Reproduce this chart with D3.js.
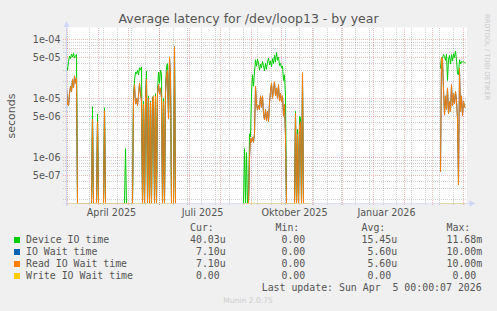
<!DOCTYPE html>
<html>
<head>
<meta charset="utf-8">
<script src="https://cdn.jsdelivr.net/npm/d3@7/dist/d3.min.js"></script>
<style>
body { margin: 0; background: #f0f0f0; }
svg { display: block; }
text { font-family: "DejaVu Sans", sans-serif; fill: #555; }
.mono { font-family: "DejaVu Sans Mono", monospace; white-space: pre; }
</style>
</head>
<body>
<script>
// Average latency for /dev/loop13 - by year (munin)

var startDate = "2025-03-01";
var endDate = "2026-04-05";

// each segment is one run of known data, one value per day
var segmentStarts = ["2025-03-01", "2025-08-25", "2026-03-10"];

var deviceIO = [
	[3.3e-5, 3.0e-5, 4.2e-5, 5.2e-5, 4.7e-5, 5.6e-5, 5.0e-5, 5.8e-5, 4.8e-5, 5.3e-5, 5.5e-5,
	 0, 0, 0, 0, 0, 0, 0, 0, 0, 0, 0, 0, 0, 0, 0,
	 7.2e-6, 0, 0, 0, 0, 5.4e-6, 0, 0, 0, 0, 0, 0, 6.9e-6,
	 0, 0, 0, 0, 0, 0, 0, 0, 0, 0, 0, 0, 0, 0, 0, 0, 0, 0, 0, 0,
	 1.4e-6, 0, 0, 0, 0, 0, 0, 0,
	 1.1e-5, 2.0e-5, 2.8e-5, 2.6e-5, 3.0e-5, 2.5e-5, 3.3e-5, 3.0e-5, 3.4e-5, 0,
	 9e-6, 0, 1.0e-5, 2.9e-5, 0, 1.1e-5, 0, 9e-6, 0, 1.0e-5, 1.1e-5, 0, 1.2e-5, 0,
	 1.3e-5, 2.8e-5, 1.8e-5, 3.0e-5, 2.6e-5, 0, 1.0e-5, 0,
	 1.5e-5, 3.5e-5, 3.9e-5, 5.2e-6, 3.6e-5, 2.0e-5, 0, 0, 0, 6.0e-5, 0],
	[0, 1.4e-6, 0, 1.2e-6, 0, 0, 2.5e-6, 2.2e-6, 1.2e-5, 2.5e-5, 1.6e-5, 2.8e-5,
	 4.5e-5, 3.5e-5, 4.6e-5, 4.0e-5, 3.0e-5, 3.8e-5, 3.3e-5, 4.2e-5, 3.6e-5, 2.9e-5,
	 3.9e-5, 3.1e-5, 4.2e-5, 4.8e-5, 3.7e-5, 4.3e-5, 3.4e-5, 4.7e-5, 3.9e-5, 5.4e-5,
	 4.1e-5, 6.0e-5, 4.4e-5, 5.0e-5, 3.6e-5, 3.9e-5, 3.3e-5, 3.5e-5, 2.0e-5, 2.5e-5,
	 1.1e-5, 0, 0, 0, 0, 0, 0, 0, 0, 0,
	 6e-6, 0, 3e-6, 0, 5.0e-6, 4.6e-6, 0, 2.0e-5, 0, 0, 0, 0, 0, 0, 0],
	[3.2e-5, 5.0e-5, 4.8e-5, 5.5e-5, 5.1e-5, 4.4e-5, 5.6e-5, 2.0e-5, 4.6e-5, 5.3e-5,
	 3.8e-5, 5.5e-5, 4.3e-5, 5.7e-5, 4.9e-5, 6.3e-5, 4.5e-5, 2.6e-5, 2.5e-5, 4.5e-5,
	 3.8e-5, 4.2e-5, 4.1e-5, 4.2e-5, 4.0e-5, 4.0e-5]
];

var readIO = [
	[1.5e-5, 8.0e-6, 7.5e-6, 1.2e-5, 1.6e-5, 1.3e-5, 2.1e-5, 1.5e-5, 2.4e-5, 1.8e-5, 2.2e-5,
	 0, 0, 0, 0, 0, 0, 0, 0, 0, 0, 0, 0, 0, 0, 0,
	 4.4e-6, 0, 0, 0, 0, 4.0e-6, 0, 0, 0, 0, 0, 0, 6.1e-6,
	 0, 0, 0, 0, 0, 0, 0, 0, 0, 0, 0, 0, 0, 0, 0, 0, 0, 0, 0, 0,
	 0, 0, 0, 0, 0, 0, 0, 0,
	 1.0e-5, 1.7e-5, 8e-6, 1.0e-5, 7.5e-6, 1.1e-5, 1.8e-5, 1.2e-5, 9e-6, 0,
	 8e-6, 0, 9e-6, 2.1e-5, 0, 1.0e-5, 0, 8.5e-6, 0, 9e-6, 1.1e-5, 0, 1.1e-5, 0,
	 1.2e-5, 1.7e-5, 1.2e-5, 1.5e-5, 1.0e-5, 0, 9e-6, 0,
	 1.2e-5, 2.5e-5, 3.0e-5, 4.5e-6, 5.0e-5, 2.5e-5, 0, 0, 0, 7.5e-5, 0],
	[0, 0, 0, 0, 0, 0, 1.0e-6, 2.1e-6, 1.8e-6, 2.2e-6, 1.8e-6, 2.5e-6,
	 1.6e-5, 8e-6, 6.3e-6, 7.7e-6, 6.5e-6, 1.1e-5, 7e-6, 1.1e-5, 5.5e-6, 4.3e-6,
	 6.5e-6, 4.2e-6, 6.0e-6, 4.0e-6, 8.2e-6, 1.3e-5, 1.8e-5, 1.0e-5, 1.4e-5, 1.9e-5,
	 1.1e-5, 1.5e-5, 1.0e-5, 1.7e-5, 9e-6, 1.2e-5, 8.8e-6, 1.1e-5, 5.0e-6, 8e-6,
	 2.2e-6, 0, 0, 0, 0, 0, 0, 0, 0, 0,
	 5.6e-6, 0, 2.5e-6, 0, 3.5e-6, 4.0e-6, 0, 2.7e-5, 0, 0, 0, 0, 0, 0, 0],
	[5.7e-7, 5.0e-5, 4.5e-5, 1.4e-5, 5.2e-6, 1.1e-5, 6.5e-6, 1.5e-5, 5.5e-6, 9e-6,
	 6.0e-6, 1.7e-5, 7.5e-6, 1.2e-5, 8e-6, 1.3e-5, 9e-6, 4.5e-6, 3.4e-7, 3.2e-5,
	 6.0e-6, 1.1e-5, 5.0e-6, 9e-6, 7.1e-6, 7.1e-6]
];

// IO wait = read + write; write is zero throughout, so it equals the read values
var ioWait = readIO;

var writeIO = [
	[0, 0, 0, 0, 0, 0, 0, 0, 0, 0, 0, 0, 0, 0, 0, 0, 0, 0, 0, 0, 0, 0, 0, 0, 0, 0, 0, 0,
	 0, 0, 0, 0, 0, 0, 0, 0, 0, 0, 0, 0, 0, 0, 0, 0, 0, 0, 0, 0, 0, 0, 0, 0, 0, 0, 0, 0,
	 0, 0, 0, 0, 0, 0, 0, 0, 0, 0, 0, 0, 0, 0, 0, 0, 0, 0, 0, 0, 0, 0, 0, 0, 0, 0, 0, 0,
	 0, 0, 0, 0, 0, 0, 0, 0, 0, 0, 0, 0, 0, 0, 0, 0, 0, 0, 0, 0, 0, 0, 0, 0, 0, 0, 0],
	[0, 0, 0, 0, 0, 0, 0, 0, 0, 0, 0, 0, 0, 0, 0, 0, 0, 0, 0, 0, 0, 0, 0, 0, 0, 0, 0, 0,
	 0, 0, 0, 0, 0, 0, 0, 0, 0, 0, 0, 0, 0, 0, 0, 0, 0, 0, 0, 0, 0, 0, 0, 0, 0, 0, 0, 0,
	 0, 0, 0, 0, 0, 0, 0, 0, 0, 0, 0],
	[0, 0, 0, 0, 0, 0, 0, 0, 0, 0, 0, 0, 0, 0, 0, 0, 0, 0, 0, 0, 0, 0, 0, 0, 0, 0]
];

var yTicks = [1e-4, 5e-5, 1e-5, 5e-6, 1e-6, 5e-7];
var yTickLabels = ["1e-04", "5e-05", "1e-05", "5e-06", "1e-06", "5e-07"];

var xLabels = ["April 2025", "Juli 2025", "Oktober 2025", "Januar 2026"];
var xLabelDates = ["2025-04-15", "2025-07-15", "2025-10-15", "2026-01-15"];

var legendNames = ["Device IO time", "IO Wait time", "Read IO Wait time", "Write IO Wait time"];
var curValues = ["40.03u", " 7.10u", " 7.10u", " 0.00 "];
var minValues = [" 0.00 ", " 0.00 ", " 0.00 ", " 0.00 "];
var avgValues = ["15.45u", " 5.60u", " 5.60u", " 0.00 "];
var maxValues = ["11.68m", "10.00m", "10.00m", " 0.00 "];
var lastUpdate = "Last update: Sun Apr  5 00:00:07 2026";

var colors = ["#00cc00", "#0066b3", "#ff8000", "#ffcc00"];

var W = 497, H = 311;
var X0 = 66.5, X1 = 466.5, YT = 28, YB = 203.5;

var parse = d3.utcParse("%Y-%m-%d");

var svg = d3.select(document.body).append("svg")
	.attr("width", W)
	.attr("height", H);

var x = d3.scaleUtc()
	.domain([parse(startDate), parse(endDate)])
	.range([X0, X1]);

var y = d3.scaleLog()
	.domain([1e-6, 1e-4])
	.range([157.3, 39.3]);

var yMin = y.invert(YB);
var yMax = y.invert(YT);

function yPos(v) {
	if (v <= yMin) { return YB; }
	return y(v);
}

// plot area
svg.append("rect")
	.attr("x", 67).attr("y", YT - 0.5)
	.attr("width", X1 - 67 + 0.5).attr("height", YB - YT)
	.attr("fill", "#fff");

svg.append("clipPath").attr("id", "plot")
	.append("rect")
	.attr("x", X0).attr("y", YT - 1)
	.attr("width", X1 - X0 + 1).attr("height", YB - YT + 1.5);

var grid = svg.append("g");
var minorColor = "rgba(143,143,143,0.4)";
var majorColor = "rgba(222,79,79,0.38)";

// horizontal grid
var hMinor = [], hMajor = [];
for (var d = -7; d <= -4; d++) {
	for (var m = 1; m <= 9; m++) {
		var v = m * Math.pow(10, d);
		if (v < yMin || v > yMax) { continue; }
		if (m == 1 || m == 5) { hMajor.push(v); } else { hMinor.push(v); }
	}
}

grid.selectAll(".hmin").data(hMinor).enter().append("line")
	.attr("x1", 63).attr("x2", X1 + 0.5)
	.attr("y1", function (v) { return Math.round(y(v)) + 0.5; })
	.attr("y2", function (v) { return Math.round(y(v)) + 0.5; })
	.attr("stroke", minorColor).attr("stroke-dasharray", "1,1");

// vertical grid: minor every two weeks, major on the first of each month
var vMinor = [];
var t = parse("2025-03-23");
while (t < parse(endDate)) { vMinor.push(t); t = d3.utcDay.offset(t, 14); }
var vMajor = d3.utcMonth.range(parse(startDate), parse(endDate));

grid.selectAll(".vmin").data(vMinor).enter().append("line")
	.attr("x1", function (t) { return Math.round(x(t)) + 0.5; })
	.attr("x2", function (t) { return Math.round(x(t)) + 0.5; })
	.attr("y1", YT).attr("y2", YB + 2)
	.attr("stroke", minorColor).attr("stroke-dasharray", "1,1");

grid.selectAll(".hmaj").data(hMajor).enter().append("line")
	.attr("x1", 63).attr("x2", X1 + 0.5)
	.attr("y1", function (v) { return Math.round(y(v)) + 0.5; })
	.attr("y2", function (v) { return Math.round(y(v)) + 0.5; })
	.attr("stroke", majorColor).attr("stroke-dasharray", "1,1");

grid.selectAll(".vmaj").data(vMajor).enter().append("line")
	.attr("x1", function (t) { return Math.round(x(t)) + 0.5; })
	.attr("x2", function (t) { return Math.round(x(t)) + 0.5; })
	.attr("y1", YT).attr("y2", YB + 2)
	.attr("stroke", majorColor).attr("stroke-dasharray", "1,1");

// y labels
svg.selectAll(".ylab").data(yTicks).enter().append("text")
	.attr("x", 60.5)
	.attr("y", function (v) { return y(v) + 3.5; })
	.attr("text-anchor", "end")
	.attr("font-size", "9.6px")
	.text(function (v, i) { return yTickLabels[i]; });

// x labels
svg.selectAll(".xlab").data(xLabelDates).enter().append("text")
	.attr("x", function (s) { return x(parse(s)); })
	.attr("y", 215.5)
	.attr("text-anchor", "middle")
	.attr("font-size", "9.6px")
	.text(function (s, i) { return xLabels[i]; });

// series
var series = [deviceIO, ioWait, readIO, writeIO];
var line = d3.line()
	.x(function (p) { return x(p.date); })
	.y(function (p) { return yPos(p.v); });

var plot = svg.append("g").attr("clip-path", "url(#plot)");
series.forEach(function (segs, k) {
	segs.forEach(function (vals, s) {
		var s0 = parse(segmentStarts[s]);
		var pts = vals.map(function (v, i) { return { date: d3.utcDay.offset(s0, i), v: v }; });
		plot.append("path")
			.attr("d", line(pts))
			.attr("fill", "none")
			.attr("stroke", colors[k])
			.attr("stroke-width", 1);
	});
});

// axes
var axisColor = "#CFD6F8";
svg.append("line")
	.attr("x1", X0).attr("x2", X0)
	.attr("y1", 24).attr("y2", YB + 3)
	.attr("stroke", axisColor);
svg.append("line")
	.attr("x1", 63).attr("x2", X1 + 4)
	.attr("y1", YB).attr("y2", YB)
	.attr("stroke", axisColor).attr("stroke-opacity", 0.6);
svg.append("path")
	.attr("d", "M" + (X0 - 3) + ",27 L" + X0 + ",21 L" + (X0 + 3) + ",27 Z")
	.attr("fill", axisColor);
svg.append("path")
	.attr("d", "M" + (X1 + 3) + "," + (YB - 3) + " L" + (X1 + 9) + "," + YB + " L" + (X1 + 3) + "," + (YB + 3) + " Z")
	.attr("fill", axisColor);

// title and labels
svg.append("text")
	.attr("x", 248.5).attr("y", 23)
	.attr("text-anchor", "middle")
	.attr("font-size", "12.5px")
	.text("Average latency for /dev/loop13 - by year");

svg.append("text")
	.attr("transform", "translate(15,116) rotate(-90)")
	.attr("text-anchor", "middle")
	.attr("font-size", "11px")
	.text("seconds");

svg.append("text")
	.attr("transform", "translate(485,14) rotate(90)")
	.attr("font-size", "6.7px")
	.style("fill", "#c8c8c8")
	.text("RRDTOOL / TOBI OETIKER");

// legend
var lg = svg.append("g").attr("class", "legend");
var cols = [[190, "Cur:", curValues], [275.5, "Min:", minValues], [361.5, "Avg:", avgValues], [446.5, "Max:", maxValues]];
cols.forEach(function (c) {
	lg.append("text").attr("class", "mono")
		.attr("x", c[0]).attr("y", 231)
		.attr("font-size", "9.9px")
		.text(c[1]);
});
legendNames.forEach(function (name, i) {
	var by = 243 + i * 12;
	lg.append("rect")
		.attr("x", 14).attr("y", by - 6)
		.attr("width", 6).attr("height", 6)
		.attr("fill", colors[i]);
	lg.append("text").attr("class", "mono")
		.attr("x", 26).attr("y", by)
		.attr("font-size", "9.9px")
		.text(name);
	cols.forEach(function (c) {
		lg.append("text").attr("class", "mono")
			.attr("xml:space", "preserve")
			.attr("x", c[0]).attr("y", by)
			.attr("font-size", "9.9px")
			.text(c[2][i]);
	});
});
lg.append("text").attr("class", "mono")
	.attr("xml:space", "preserve")
	.attr("x", 261.7).attr("y", 291)
	.attr("font-size", "9.9px")
	.text(lastUpdate);

svg.append("text")
	.attr("x", 248).attr("y", 303)
	.attr("text-anchor", "middle")
	.attr("font-size", "7.6px")
	.style("fill", "#ccc")
	.text("Munin 2.0.75");
</script>
</body>
</html>
